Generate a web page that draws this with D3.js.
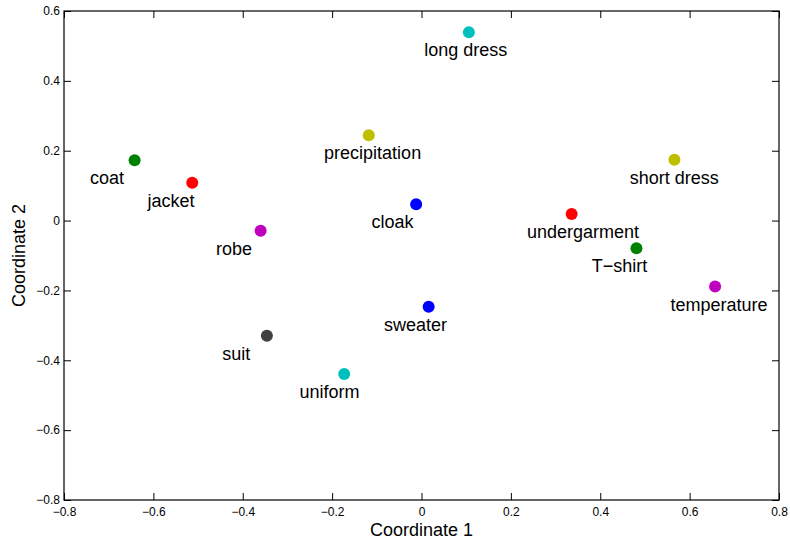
<!DOCTYPE html>
<html>
<head>
<meta charset="utf-8">
<script src="https://cdn.jsdelivr.net/npm/d3@7"></script>
<style>
  html, body { margin: 0; padding: 0; background: #fff; }
  svg { display: block; font-family: "Liberation Sans", Arial, Helvetica, sans-serif; }
</style>
</head>
<body>
<svg id="chart" width="790" height="543"></svg>
<script>
// ---- data ----
const words = ["coat", "jacket", "robe", "precipitation", "cloak", "long dress",
               "undergarment", "short dress", "T\u2212shirt", "temperature",
               "sweater", "suit", "uniform"];
const coord1 = [-0.642, -0.513, -0.360, -0.118, -0.012, 0.106,
                0.336, 0.566, 0.481, 0.657, 0.016, -0.346, -0.173];
const coord2 = [0.173, 0.108, -0.029, 0.244, 0.047, 0.539,
                0.019, 0.174, -0.079, -0.189, -0.247, -0.330, -0.439];
const pointColors = ["#008000", "#ff0000", "#bf00bf", "#bfbf00", "#0000ff", "#00bfbf",
                     "#ff0000", "#bfbf00", "#008000", "#bf00bf", "#0000ff", "#404040", "#00bfbf"];
const xTicks = [-0.8, -0.6, -0.4, -0.2, 0, 0.2, 0.4, 0.6, 0.8];
const yTicks = [-0.8, -0.6, -0.4, -0.2, 0, 0.2, 0.4, 0.6];
const xLabel = "Coordinate 1";
const yLabel = "Coordinate 2";
// label offset in data units (text placed at x-0.1, y-0.05)
const labelOffsetX = -0.1, labelOffsetY = -0.05;

// ---- layout ----
const mLeft = 64, mRight = 779, mTop = 11, mBottom = 500;
const svg = d3.select("#chart");
const x = d3.scaleLinear().domain([-0.8, 0.8]).range([mLeft, mRight]);
const y = d3.scaleLinear().domain([-0.8, 0.6]).range([mBottom, mTop]);

const fmt = v => (v === 0 ? "0" : d3.format(".1f")(v)).replace("-", "\u2212");

const tickLen = 7;
function styleAxis(g) {
  g.select(".domain").remove();
  g.selectAll(".tick line").attr("stroke", "#000").attr("stroke-width", 1);
  g.selectAll(".tick text").attr("fill", "#000").style("font-size", "12px");
}

// bottom axis (ticks inward)
svg.append("g").attr("transform", `translate(0,${mBottom})`)
  .call(d3.axisBottom(x).tickValues(xTicks).tickFormat(fmt).tickSizeInner(-tickLen).tickSizeOuter(0).tickPadding(7.5))
  .call(styleAxis);
// top axis ticks
svg.append("g").attr("transform", `translate(0,${mTop})`)
  .call(d3.axisTop(x).tickValues(xTicks).tickFormat("").tickSizeInner(-tickLen).tickSizeOuter(0))
  .call(styleAxis);
// left axis
svg.append("g").attr("transform", `translate(${mLeft},0)`)
  .call(d3.axisLeft(y).tickValues(yTicks).tickFormat(fmt).tickSizeInner(-tickLen).tickSizeOuter(0).tickPadding(4))
  .call(styleAxis);
// right axis ticks
svg.append("g").attr("transform", `translate(${mRight},0)`)
  .call(d3.axisRight(y).tickValues(yTicks).tickFormat("").tickSizeInner(-tickLen).tickSizeOuter(0))
  .call(styleAxis);

// box
svg.append("rect")
  .attr("x", mLeft).attr("y", mTop)
  .attr("width", mRight - mLeft).attr("height", mBottom - mTop)
  .attr("fill", "none").attr("stroke", "#000").attr("stroke-width", 1.2);

// points
const pts = words.map((w, i) => ({ w, x: coord1[i], y: coord2[i], c: pointColors[i] }));
svg.append("g").selectAll("circle").data(pts).join("circle")
  .attr("cx", d => x(d.x)).attr("cy", d => y(d.y)).attr("r", 6)
  .attr("fill", d => d.c);

// labels
svg.append("g").selectAll("text").data(pts).join("text")
  .attr("x", d => x(d.x + labelOffsetX))
  .attr("y", d => y(d.y + labelOffsetY))
  .attr("dy", "0.36em")
  .attr("text-anchor", "start")
  .style("font-size", "18px")
  .attr("fill", "#000")
  .text(d => d.w);

// axis labels
svg.append("text")
  .attr("x", (mLeft + mRight) / 2).attr("y", 536)
  .attr("text-anchor", "middle").style("font-size", "18px").attr("fill", "#000")
  .text(xLabel);
svg.append("text")
  .attr("transform", `translate(25,${(mTop + mBottom) / 2}) rotate(-90)`)
  .attr("text-anchor", "middle").style("font-size", "18px").attr("fill", "#000")
  .text(yLabel);
</script>
</body>
</html>
